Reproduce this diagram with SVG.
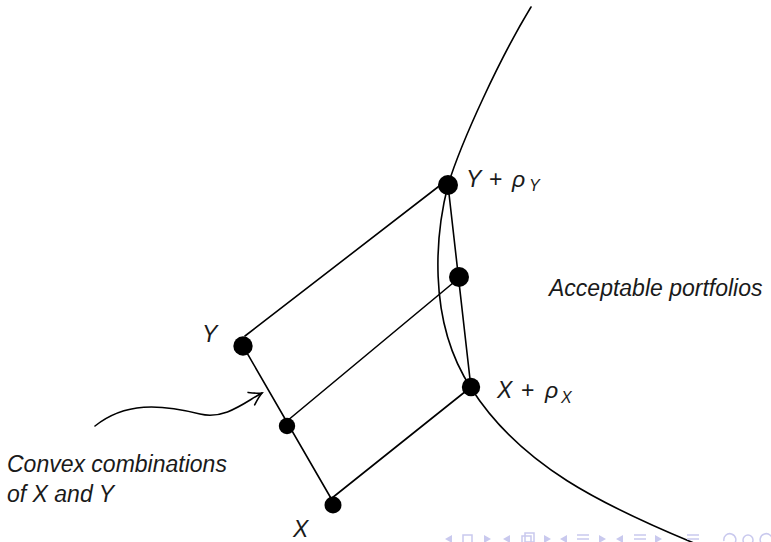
<svg xmlns="http://www.w3.org/2000/svg" width="771" height="542" viewBox="0 0 771 542">
<style>
.ln{fill:none;stroke:#000;stroke-width:1.6;stroke-linecap:round}
.dot{fill:#000}
.t{font-family:"Liberation Sans","DejaVu Sans",sans-serif;font-size:23px;font-style:italic;fill:#1a1a1a}
.up{font-style:normal}
.sub{font-size:16px}
.nav{fill:none;stroke:#c9c9ee;stroke-width:1.5}
.navf{fill:#c9c9ee}
</style>
<defs>
<marker id="to" markerUnits="userSpaceOnUse" markerWidth="20" markerHeight="20" viewBox="-15 -10 20 20" refX="0" refY="0" orient="auto">
<path d="M-12,-7 Q-4,-1.5 0,0 Q-4,1.5 -12,7" fill="none" stroke="#000" stroke-width="1.6" stroke-linecap="round"/>
</marker>
</defs>
<g id="connectors">
<path id="boundary" class="ln" d="M531,7 C500,58 462,140 448,185 C437,228 425,318 471,388 C520,465 600,505 706,548"/>
<line class="ln" x1="245" y1="336" x2="447" y2="180"/>
<line class="ln" x1="243" y1="346" x2="332" y2="500"/>
<line class="ln" x1="332" y1="498" x2="471" y2="387"/>
<line class="ln" x1="287" y1="421" x2="459" y2="278"/>
<line class="ln" x1="448" y1="185" x2="471" y2="388"/>
<path class="ln" d="M95,426 C125,402 160,404 200,414 C225,420 245,402 262,393" marker-end="url(#to)"/>
</g>
<g id="node-Y"><circle class="dot" cx="243" cy="346" r="9.7"/><text class="t" x="202" y="342">Y</text></g>
<g id="node-YrhoY"><circle class="dot" cx="448" cy="185" r="10"/><text class="t" y="187"><tspan x="466">Y</tspan><tspan class="up" x="489">+</tspan><tspan x="512">ρ</tspan><tspan class="sub" x="529" dy="4">Y</tspan></text></g>
<g id="node-mid-right"><circle class="dot" cx="459" cy="277" r="10"/></g>
<g id="node-XrhoX"><circle class="dot" cx="471" cy="387" r="9.2"/><text class="t" y="398"><tspan x="497">X</tspan><tspan class="up" x="521">+</tspan><tspan x="545">ρ</tspan><tspan class="sub" x="561" dy="5">X</tspan></text></g>
<g id="node-mid-left"><circle class="dot" cx="287" cy="426" r="8.2"/></g>
<g id="node-X"><circle class="dot" cx="333" cy="505" r="8.5"/><text class="t" x="293" y="537">X</text></g>
<g id="labels">
<text class="t" x="549" y="296">Acceptable portfolios</text>
<text class="t" x="7" y="472">Convex combinations</text>
<text class="t" x="7" y="502">of X and Y</text>
</g>
<g id="nav">
<polygon class="navf" points="445,539 452,535 452,543"/>
<rect class="nav" x="463" y="535" width="9" height="9"/>
<polygon class="navf" points="491,539 484,535 484,543"/>
<polygon class="navf" points="503,539 510,535 510,543"/>
<rect class="nav" x="522" y="536" width="9" height="9"/><rect class="nav" x="525" y="533" width="9" height="9"/>
<polygon class="navf" points="551,539 544,535 544,543"/>
<polygon class="navf" points="560,539 567,535 567,543"/>
<path class="nav" d="M577,535h12M577,539h12M577,543h12"/>
<polygon class="navf" points="606,539 599,535 599,543"/>
<polygon class="navf" points="616,539 623,535 623,543"/>
<path class="nav" d="M634,535h12M634,539h12M634,543h12"/>
<polygon class="navf" points="662,539 655,535 655,543"/>
<path class="nav" d="M687,535h12M687,539h12M687,543h12"/>
<path class="nav" d="M724,541 a6,6 0 1 1 10,3"/>
<circle class="nav" cx="748" cy="540" r="5"/>
<path class="nav" d="M772,541 a6,6 0 1 0 -10,3"/>
</g>
</svg>
